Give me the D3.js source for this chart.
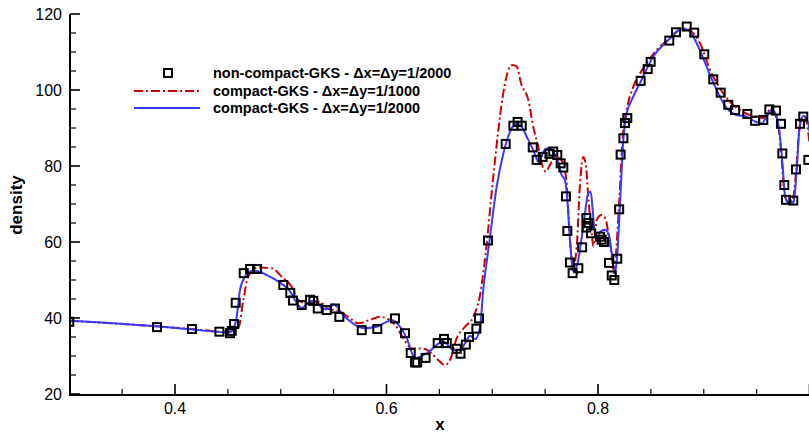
<!DOCTYPE html>
<html><head><meta charset="utf-8">
<script src="https://cdn.jsdelivr.net/npm/d3@7"></script>
<style>body{margin:0;background:#fff}svg{display:block;font-family:"Liberation Sans",Arial,Helvetica,sans-serif}</style>
</head><body><svg id="c" width="809" height="433"></svg>
<script>
// non-compact-GKS markers
const markX = [0.300,0.383,0.416,0.442,0.452,0.4536,0.4558,0.4574,0.465,0.471,0.4775,0.5024,0.509,0.5116,0.5198,0.5277,0.5308,0.535,0.5435,0.5513,0.5554,0.5766,0.5913,0.608,0.6175,0.6229,0.627,0.629,0.637,0.6484,0.6544,0.657,0.6664,0.670,0.675,0.678,0.685,0.6875,0.696,0.7127,0.720,0.724,0.7279,0.7383,0.742,0.7477,0.754,0.7577,0.7615,0.7647,0.7672,0.7697,0.771,0.7735,0.776,0.7814,0.785,0.789,0.789,0.791,0.7934,0.802,0.8035,0.8057,0.8104,0.813,0.8154,0.8182,0.820,0.8214,0.824,0.8255,0.8277,0.8403,0.847,0.8498,0.8674,0.8738,0.8839,0.891,0.9005,0.909,0.916,0.9232,0.9296,0.9412,0.9485,0.9563,0.962,0.9683,0.973,0.9743,0.9762,0.9778,0.9847,0.9872,0.991,0.9941,0.9989];
const markY = [39.0,37.6,37.1,36.4,36.0,36.6,38.4,44.0,51.8,52.9,52.9,48.7,46.6,44.6,43.4,44.8,44.5,42.5,42.1,42.5,40.3,36.8,37.1,39.9,36.0,30.8,28.3,28.3,29.5,33.4,34.5,33.4,31.9,30.6,33.0,35.0,37.2,39.9,60.4,85.8,90.6,91.6,90.6,84.9,81.6,82.4,83.2,83.8,82.9,80.7,79.6,72.0,62.9,54.6,51.8,53.1,58.6,66.3,63.8,65.0,62.3,61.4,60.6,60.0,54.5,51.2,50.0,55.6,68.6,83.0,87.3,91.3,92.6,102.4,105.5,107.4,113.0,115.2,116.7,115.1,109.4,102.8,99.3,96.1,94.7,93.7,91.9,92.1,94.9,94.6,91.1,83.3,75.0,71.1,70.9,79.1,91.1,93.0,81.6];

// compact-GKS dx=dy=1/1000
const redX = [0.300,0.383,0.416,0.450,0.4536,0.4599,0.4646,0.4693,0.4788,0.4914,0.5008,0.5103,0.5166,0.5245,0.5277,0.5371,0.5434,0.556,0.5655,0.5733,0.5844,0.5939,0.6002,0.608,0.6159,0.6238,0.6333,0.6427,0.649,0.6553,0.66,0.6664,0.6742,0.6821,0.6884,0.6931,0.701,0.7073,0.713,0.7185,0.723,0.7275,0.7341,0.7388,0.7435,0.7477,0.7508,0.7546,0.7593,0.7641,0.7672,0.7704,0.7735,0.7767,0.7799,0.783,0.7861,0.7887,0.7908,0.794,0.7956,0.7988,0.8035,0.8073,0.8097,0.813,0.8151,0.8177,0.8201,0.8234,0.8271,0.8334,0.8428,0.8555,0.8681,0.8807,0.8886,0.8965,0.9059,0.9154,0.9248,0.9343,0.9437,0.95,0.9563,0.9626,0.9657,0.9705,0.9737,0.9768,0.9816,0.9847,0.9879,0.991,0.9948,0.9989,1.0];
const redY = [39.3,37.8,37.1,36.3,36.8,37.3,44.7,50.9,53.3,53.1,50.9,48.2,44.7,43.9,44.0,44.3,42.6,41.7,39.9,38.6,39.5,40.3,39.9,38.2,34.7,32.0,32.0,30.7,28.9,27.6,28.9,34.7,37.7,40.3,46.0,55.3,77.2,93.0,103.0,106.6,106.2,101.5,97.4,90.3,85.1,79.8,78.5,80.3,82.4,82.0,80.3,75.4,60.5,53.5,58.8,75.4,82.4,79.8,71.9,62.3,58.8,65.8,67.1,66.0,62.3,56.1,51.8,59.7,71.0,87.7,94.7,100.9,105.7,110.5,113.6,116.2,115.3,112.3,105.3,100.4,96.9,94.7,93.4,93.0,92.6,94.7,94.3,90.8,81.6,71.9,70.2,71.9,80.7,91.2,93.2,88.6,86.0];

// compact-GKS dx=dy=1/2000
const blueX = [0.300,0.383,0.416,0.450,0.4536,0.4583,0.4615,0.4662,0.4725,0.4773,0.4867,0.4993,0.5088,0.5135,0.5198,0.5245,0.5308,0.5371,0.5418,0.5466,0.5497,0.5529,0.5576,0.5671,0.5781,0.5907,0.6002,0.6049,0.6128,0.6191,0.627,0.638,0.6537,0.6632,0.6695,0.6742,0.679,0.6837,0.6884,0.6915,0.6963,0.6979,0.7042,0.7105,0.7168,0.7231,0.7279,0.7326,0.7388,0.7442,0.7483,0.7521,0.7577,0.7625,0.7657,0.7688,0.771,0.7735,0.7767,0.7799,0.7861,0.7908,0.7931,0.795,0.7972,0.7993,0.8019,0.8066,0.8104,0.813,0.8161,0.8183,0.8209,0.824,0.8271,0.8319,0.8397,0.8523,0.865,0.8791,0.8854,0.8933,0.9028,0.9122,0.9217,0.9312,0.9406,0.9485,0.9548,0.9595,0.9643,0.969,0.9721,0.9747,0.9768,0.98,0.9822,0.9847,0.9879,0.9904,0.9941,0.9989,1.0];
const blueY = [39.3,37.8,37.0,36.2,36.5,40.3,47.4,50.9,52.4,52.4,51.3,49.3,47.0,44.7,42.6,43.6,44.6,43.2,42.3,42.6,43.6,43.0,41.2,38.8,37.3,37.7,39.0,39.5,37.7,34.7,29.4,30.7,33.8,31.6,31.6,33.3,35.3,34.4,37.5,47.4,57.9,61.4,74.6,83.3,89.0,91.1,90.3,87.7,84.2,80.9,83.8,84.7,83.8,80.7,77.6,76.3,71.0,60.5,52.2,53.5,64.0,72.8,73.2,68.4,61.4,60.5,62.7,63.2,61.8,57.0,51.8,57.0,70.5,87.0,93.9,97.4,101.8,108.8,112.7,116.1,115.8,112.3,106.1,100.0,95.2,93.4,93.0,91.7,91.2,93.0,94.9,93.0,87.7,79.8,72.4,70.2,71.0,70.2,78.9,89.5,93.2,91.2,89.0];

const xTicksMajor = [0.4,0.6,0.8,1.0];
const xTickLabels = ["0.4","0.6","0.8",""];
const yTicksMajor = [20,40,60,80,100,120];
const legendLabels = ["non-compact-GKS - \u0394x=\u0394y=1/2000","compact-GKS - \u0394x=\u0394y=1/1000","compact-GKS - \u0394x=\u0394y=1/2000"];

const svg = d3.select("#c");
const L=70, R=809.5, T=14, B=395;
const x = d3.scaleLinear().domain([0.3,1.0]).range([L-0.75,R]);
const y = d3.scaleLinear().domain([20,120]).range([B-1,T]);
const RED="#d00000", BLUE="#3a3aff";

svg.append("defs").append("clipPath").attr("id","clip")
  .append("rect").attr("x",L).attr("y",T-5).attr("width",R-L+2).attr("height",B-T+5);

const line = d3.line().x(d=>x(d[0])).y(d=>y(d[1])).curve(d3.curveMonotoneX);
const g = svg.append("g").attr("clip-path","url(#clip)");
g.append("path").datum(d3.zip(redX,redY)).attr("d",line).attr("fill","none")
  .attr("stroke",RED).attr("stroke-width",2).attr("stroke-dasharray","9,3,2,3");
g.append("path").datum(d3.zip(blueX,blueY)).attr("d",line).attr("fill","none")
  .attr("stroke",BLUE).attr("stroke-width",2);
const s=8;
g.selectAll("rect.m").data(d3.zip(markX,markY)).enter().append("rect").attr("class","m")
  .attr("x",d=>x(d[0])-s/2).attr("y",d=>y(d[1])-s/2).attr("width",s).attr("height",s)
  .attr("fill","none").attr("stroke","#000").attr("stroke-width",2);

// axes
const ax = svg.append("g");
ax.append("line").attr("x1",L).attr("x2",809).attr("y1",B).attr("y2",B).attr("stroke","#000").attr("stroke-width",2);
ax.append("line").attr("x1",L).attr("x2",L).attr("y1",T).attr("y2",B+1).attr("stroke","#000").attr("stroke-width",2);
// x ticks (inward)
const xMinor = d3.range(0.35,1.0001,0.05).filter(v=>!xTicksMajor.some(m=>Math.abs(m-v)<1e-6));
xMinor.forEach(v=>ax.append("line").attr("x1",x(v)).attr("x2",x(v)).attr("y1",B).attr("y2",B-6).attr("stroke","#000").attr("stroke-width",1.2));
xTicksMajor.forEach((v,i)=>{
  ax.append("line").attr("x1",x(v)).attr("x2",x(v)).attr("y1",B).attr("y2",B-11).attr("stroke","#000").attr("stroke-width",1.6);
  if (xTickLabels[i]) ax.append("text").attr("x",x(v)).attr("y",B+19).attr("text-anchor","middle").attr("font-size",16).text(xTickLabels[i]);
});
const yMinor = d3.range(25,120,5).filter(v=>v%20!==0);
yMinor.forEach(v=>ax.append("line").attr("x1",L).attr("x2",L+6).attr("y1",y(v)).attr("y2",y(v)).attr("stroke","#000").attr("stroke-width",1.2));
yTicksMajor.forEach(v=>{
  ax.append("line").attr("x1",L).attr("x2",L+10).attr("y1",y(v)).attr("y2",y(v)).attr("stroke","#000").attr("stroke-width",1.6);
  ax.append("text").attr("x",L-8).attr("y",y(v)+6).attr("text-anchor","end").attr("font-size",16).text(v);
});
svg.append("text").attr("x",440).attr("y",430).attr("text-anchor","middle").attr("font-size",17).attr("font-weight","bold").text("x");
svg.append("text").attr("transform","translate(22,205) rotate(-90)").attr("text-anchor","middle").attr("font-size",17).attr("font-weight","bold").text("density");

// legend
const lg = svg.append("g");
const ly=[73,91,108];
lg.append("rect").attr("x",168-s/2).attr("y",ly[0]-s/2).attr("width",s).attr("height",s).attr("fill","none").attr("stroke","#000").attr("stroke-width",2);
lg.append("line").attr("x1",134).attr("x2",200).attr("y1",ly[1]).attr("y2",ly[1]).attr("stroke",RED).attr("stroke-width",2).attr("stroke-dasharray","9,3,2,3");
lg.append("line").attr("x1",134).attr("x2",200).attr("y1",ly[2]).attr("y2",ly[2]).attr("stroke",BLUE).attr("stroke-width",2);
legendLabels.forEach((t,i)=>lg.append("text").attr("x",213).attr("y",ly[i]+5).attr("font-size",14.5).attr("font-weight","bold").text(t));
</script></body></html>
